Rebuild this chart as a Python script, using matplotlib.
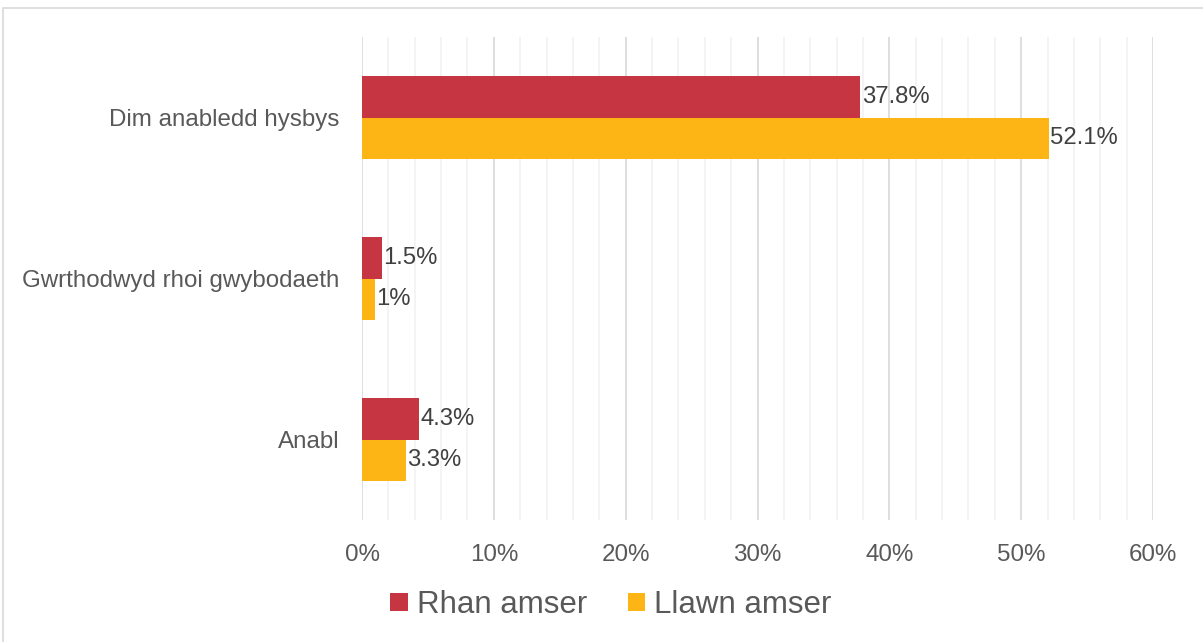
import matplotlib.pyplot as plt
import matplotlib.patches as patches
import numpy as np

plt.rcParams['font.family'] = ['Liberation Sans', 'DejaVu Sans']

categories = ["Anabl", "Gwrthodwyd rhoi gwybodaeth", "Dim anabledd hysbys"]
rhan_amser = [4.3, 1.5, 37.8]
llawn_amser = [3.3, 1.0, 52.1]
series_names = ["Rhan amser", "Llawn amser"]
colors = ["#C63542", "#FDB515"]

fig = plt.figure(figsize=(12.03, 6.42), dpi=100)
ax = fig.add_axes([362 / 1203, 1 - 520 / 642, (1153 - 362) / 1203, (520 - 37) / 642])

y = np.arange(len(categories))
h = 0.26
bars_r = ax.barh(y + h / 2, rhan_amser, height=h, color=colors[0], label=series_names[0], zorder=3)
bars_l = ax.barh(y - h / 2, llawn_amser, height=h, color=colors[1], label=series_names[1], zorder=3)

for bars, vals in [(bars_r, rhan_amser), (bars_l, llawn_amser)]:
    for b, v in zip(bars, vals):
        ax.text(b.get_width() + 0.1, b.get_y() + b.get_height() / 2, f"{v:g}%",
                va="center", ha="left", fontsize=17.2, color="#404040")

ax.set_xlim(0, 60)
ax.set_ylim(-0.5, 2.5)
ax.set_xticks(np.arange(0, 61, 10))
ax.set_xticklabels([f"{t}%" for t in range(0, 61, 10)])
ax.set_xticks(np.arange(0, 61, 2), minor=True)
ax.set_yticks(y)
ax.set_yticklabels(categories)

ax.grid(axis="x", which="minor", color="#F2F2F2", linewidth=1.2, zorder=0)
ax.grid(axis="x", which="major", color="#D9D9D9", linewidth=1.2, zorder=1)
ax.tick_params(axis="both", which="both", length=0, labelsize=17.4, colors="#595959")
ax.tick_params(axis="x", pad=17)
ax.tick_params(axis="y", pad=16)
for s in ax.spines.values():
    s.set_visible(False)

leg = fig.legend(loc="center", bbox_to_anchor=(611 / 1203, 1 - 605 / 642), ncol=2, frameon=False,
                 fontsize=22.5, handlelength=0.55, handleheight=0.55, handletextpad=0.3,
                 columnspacing=1.3)
for t in leg.get_texts():
    t.set_color("#595959")

fig.patches.append(patches.Rectangle((3 / 1203, -0.1), 1.2, 1 - 8 / 642 + 0.1,
                                     transform=fig.transFigure, fill=False,
                                     edgecolor="#D9D9D9", linewidth=1.2))

fig.savefig("out.png", dpi=100)
